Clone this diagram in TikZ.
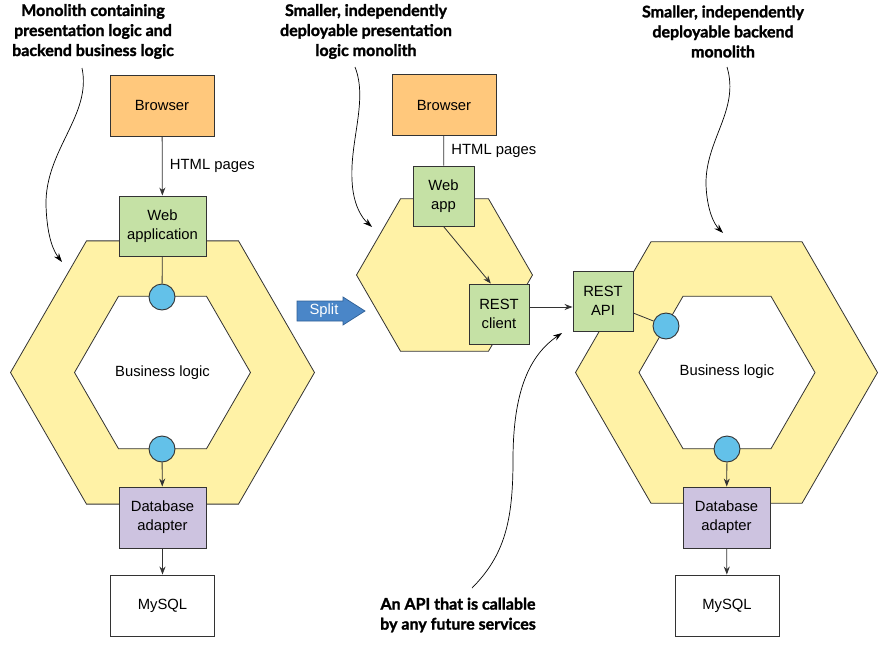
\documentclass[tikz,border=0pt]{standalone}
\usepackage{fontspec}
\setmainfont{Liberation Sans}
\newfontfamily\titlefont{Lato}[BoldFeatures={FakeBold=1.6}]
\usetikzlibrary{arrows.meta,calc}

\definecolor{linec}{HTML}{333333}
\definecolor{hexfill}{HTML}{FFF2A6}
\definecolor{orangec}{HTML}{FFC87C}
\definecolor{greenc}{HTML}{C5E1A5}
\definecolor{purplec}{HTML}{CDC3E0}
\definecolor{bluec}{HTML}{63C1E9}
\definecolor{splitc}{HTML}{4A86C8}
\definecolor{splitd}{HTML}{2F5F95}

\tikzset{
  lbl/.style={font=\fontsize{14.8}{19}\selectfont, align=center, text=black},
  boxnode/.style={draw=linec, line width=0.9pt, inner sep=0pt, lbl},
  browserbox/.style={boxnode, fill=orangec, minimum width=104pt, minimum height=61pt},
  greenbox/.style={boxnode, fill=greenc},
  dbbox/.style={boxnode, fill=purplec, minimum width=87pt, minimum height=61pt},
  sqlbox/.style={boxnode, fill=white, minimum width=104pt, minimum height=61pt},
  port/.style={circle, draw=linec, fill=bluec, minimum size=26pt, inner sep=0pt, line width=0.9pt},
  conn/.style={draw=linec, line width=0.8pt},
  arr/.style={conn, -{Stealth[length=8pt,width=6pt]}},
  note/.style={font=\titlefont\bfseries\fontsize{16}{20}\selectfont, align=center, text=black, inner sep=0pt},
  callout/.style={draw=black, line width=0.7pt, -{Stealth[length=9pt,width=6pt]}},
  hexline/.style={draw=linec, line width=0.8pt},
}

% flat-topped hexagon of circumradius #3 centred at (#1,#2)
\newcommand{\hexpath}[3]{%
  (#1-#3,#2) -- (#1-#3/2,#2-0.866*#3) -- (#1+#3/2,#2-0.866*#3) --
  (#1+#3,#2) -- (#1+#3/2,#2+0.866*#3) -- (#1-#3/2,#2+0.866*#3) -- cycle}

\begin{document}
\begin{tikzpicture}[x=1pt,y=-1pt]
\useasboundingbox (0,0) rectangle (881,645);

% ---------- hexagonal layers ----------
\fill[hexfill, even odd rule] \hexpath{162.5}{372.5}{152} \hexpath{162.5}{372.5}{88};
\draw[hexline] \hexpath{162.5}{372.5}{152};
\draw[hexline] \hexpath{162.5}{372.5}{88};

\fill[hexfill] \hexpath{444.5}{275}{88};
\draw[hexline] \hexpath{444.5}{275}{88};

\fill[hexfill, even odd rule] \hexpath{726.5}{372.5}{151} \hexpath{727}{372.5}{88};
\draw[hexline] \hexpath{726.5}{372.5}{151};
\draw[hexline] \hexpath{727}{372.5}{88};

% ---------- monolith ----------
\node[browserbox] (browserL) at (162,105.5) {Browser};
\node[greenbox, minimum width=87pt, minimum height=60pt] (webL) at (162.5,226) {Web\\application};
\node[port] (portLt) at (162,297) {};
\node[lbl] (blL) at (162.5,373) {Business logic};
\node[port] (portLb) at (162,449) {};
\node[dbbox] (dbL) at (162.5,517.5) {Database\\adapter};
\node[sqlbox] (sqlL) at (162.5,605.5) {MySQL};

\draw[arr] (browserL) -- node[lbl, right, xshift=4pt] {HTML pages} (webL);
\draw[conn] (webL) -- (portLt);
\draw[arr] (portLb) -- (dbL);
\draw[arr] (dbL) -- (sqlL);

% ---------- split arrow ----------
\fill[splitc, draw=splitd, line width=0.7pt]
  (297,301) -- (343,301) -- (343,297) -- (365,311) -- (343,325) -- (343,321) -- (297,321) -- cycle;
\node[lbl, text=white] (split) at (324,311) {Split};

% ---------- presentation monolith ----------
\node[browserbox] (browserM) at (444,105) {Browser};
\node[greenbox, minimum width=61pt, minimum height=60pt] (webM) at (443.5,196) {Web\\app};
\node[greenbox, minimum width=60pt, minimum height=60pt] (restC) at (499,314) {REST\\client};

\draw[conn] (browserM) -- node[lbl, right, xshift=4pt] {HTML pages} (webM);
\draw[arr] (webM.south) -- (restC.105);

% ---------- backend monolith ----------
\node[greenbox, minimum width=60pt, minimum height=60pt] (restA) at (603,301) {REST\\API};
\node[port] (portRa) at (666,326) {};
\node[lbl] (blR) at (727,372) {Business logic};
\node[port] (portRb) at (727,449) {};
\node[dbbox] (dbR) at (726.5,517.5) {Database\\adapter};
\node[sqlbox] (sqlR) at (727,605.5) {MySQL};

\draw[arr] (restC.east |- 0,307) -- (restA.west |- 0,307);
\draw[conn] (restA) -- (portRa);
\draw[arr] (portRb) -- (dbR);
\draw[arr] (dbR) -- (sqlR);

% ---------- annotations ----------
\node[note] (noteL) at (93,31.5) {Monolith containing\\presentation logic and\\backend business logic};
\node[note] (noteM) at (366,31.5) {Smaller, independently\\deployable presentation\\logic monolith};
\node[note] (noteR) at (723,31.5) {Smaller, independently\\deployable backend\\monolith};
\node[note] (noteB) at (458,615) {An API that is callable\\by any future services};

\coordinate (cL0) at (82,68);   \coordinate (cL1) at (62,262);
\coordinate (cM0) at (355,67);  \coordinate (cM1) at (372,227);
\coordinate (cR0) at (727,67);  \coordinate (cR1) at (723,233);
\coordinate (cB0) at (472,588); \coordinate (cB1) at (562,333);

\draw[callout] (cL0) .. controls (92,115) and (45,150) .. (46,205) .. controls (47,240) and (55,253) .. (cL1);
\draw[callout] (cM0) .. controls (368,100) and (350,140) .. (352,180) .. controls (353,205) and (362,218) .. (cM1);
\draw[callout] (cR0) .. controls (740,110) and (705,140) .. (706,185) .. controls (707,210) and (714,224) .. (cR1);
\draw[callout] (cB0) .. controls (505,555) and (513,520) .. (513,460) .. controls (513,390) and (530,355) .. (cB1);
\end{tikzpicture}
\end{document}
